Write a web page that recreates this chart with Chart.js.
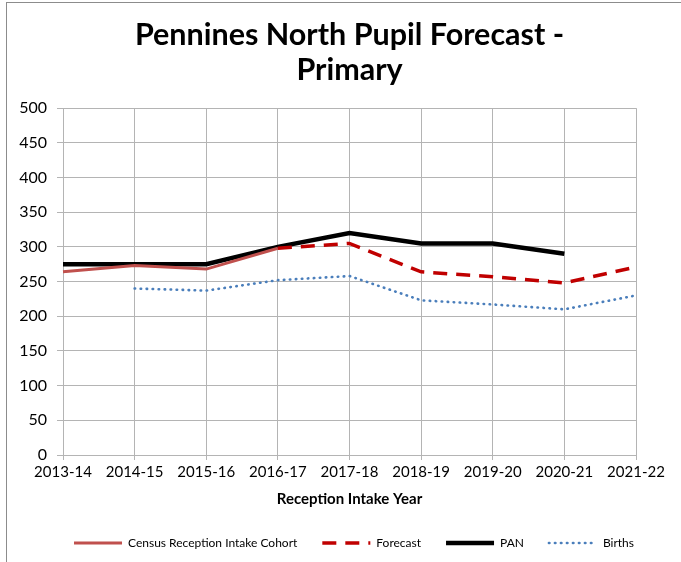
<!DOCTYPE html>
<html>
<head>
<meta charset="utf-8">
<script src="https://cdn.jsdelivr.net/npm/chart.js@4"></script>
<style>
    html, body { margin: 0; padding: 0; background: #fff; }
    #wrap { position: relative; width: 681px; height: 562px; }
    #frame { position: absolute; left: 6px; top: 2px; right: 0; bottom: 0;
             border-left: 1px solid #8c8c8c; border-top: 1px solid #8c8c8c; }
    canvas { position: absolute; left: 0; top: 0; }
</style>
</head>
<body>
<div id="wrap">
    <div id="frame"></div>
    <canvas id="forecastChart" width="681" height="562"></canvas>
</div>
<script>
const years = ['2013-14', '2014-15', '2015-16', '2016-17', '2017-18', '2018-19', '2019-20', '2020-21', '2021-22'];
const census = [264, 273, 268, 298, null, null, null, null, null];
const forecast = [null, null, null, 298, 305, 264, 257, 248, 271];
const pan = [275, 275, 275, 300, 320, 305, 305, 290, null];
const births = [null, 240, 237, 252, 258, 223, 217, 210, 230];
const yTicks = [0, 50, 100, 150, 200, 250, 300, 350, 400, 450, 500];

document.addEventListener('DOMContentLoaded', () => {
    const ctx = document.getElementById('forecastChart').getContext('2d');
    const gridColor = '#b4b4b4';

    new Chart(ctx, {
        type: 'line',
        data: {
            labels: years,
            datasets: [
                {
                    label: 'Census Reception Intake Cohort',
                    data: census,
                    borderColor: '#c0504d',
                    backgroundColor: '#c0504d',
                    borderWidth: 3
                },
                {
                    label: 'Forecast',
                    data: forecast,
                    borderColor: '#c00000',
                    backgroundColor: '#c00000',
                    borderWidth: 3.5,
                    borderDash: [14, 9]
                },
                {
                    label: 'PAN',
                    data: pan,
                    borderColor: '#000000',
                    backgroundColor: '#000000',
                    borderWidth: 4.5
                },
                {
                    label: 'Births',
                    data: births,
                    borderColor: '#4a7ebb',
                    backgroundColor: '#4a7ebb',
                    borderWidth: 2.6,
                    borderDash: [0.5, 5.5],
                    borderCapStyle: 'round'
                }
            ]
        },
        options: {
            responsive: false,
            animation: false,
            spanGaps: false,
            elements: {
                point: { radius: 0, hoverRadius: 0 },
                line: { tension: 0 }
            },
            layout: {
                padding: { left: 0, right: 22, top: 0, bottom: 3 }
            },
            scales: {
                x: {
                    offset: false,
                    grid: { color: gridColor, tickLength: 5 },
                    border: { color: gridColor },
                    ticks: {
                        color: '#000',
                        padding: 3,
                        maxRotation: 0,
                        autoSkip: false,
                        font: { family: 'Lato', size: 15 }
                    },
                    title: {
                        display: true,
                        text: 'Reception Intake Year',
                        color: '#000',
                        padding: { top: 6, bottom: 4 },
                        font: { family: 'Lato', size: 15, weight: 'bold' }
                    }
                },
                y: {
                    min: 0,
                    max: 500,
                    afterBuildTicks: (scale) => {
                        scale.ticks = yTicks.map(v => ({ value: v }));
                    },
                    afterFit: (scale) => {
                        scale.width = 63;
                    },
                    grid: { color: gridColor, tickLength: 6 },
                    border: { color: gridColor },
                    ticks: {
                        color: '#000',
                        padding: 10,
                        font: { family: 'Lato', size: 16 }
                    }
                },
                // empty spacer on the right so the plot ends where the original does
                spacer: {
                    position: 'right',
                    display: true,
                    grid: { display: false },
                    border: { display: false },
                    ticks: { display: false },
                    afterFit: (scale) => {
                        scale.width = 23;
                    }
                }
            },
            plugins: {
                title: {
                    display: true,
                    fullSize: false,
                    text: ['Pennines North Pupil Forecast -', 'Primary'],
                    color: '#000',
                    padding: { top: 18, bottom: 20 },
                    font: { family: 'Lato', size: 30.5, weight: 'bold', lineHeight: 1.15 }
                },
                legend: {
                    position: 'bottom',
                    align: 'end',
                    labels: {
                        usePointStyle: true,
                        pointStyle: 'line',
                        pointStyleWidth: 48,
                        padding: 25,
                        color: '#000',
                        font: { family: 'Lato', size: 12 },
                        generateLabels: (chart) => {
                            const items = Chart.defaults.plugins.legend.labels.generateLabels(chart);
                            return items.map(item => {
                                const ds = chart.data.datasets[item.datasetIndex];
                                item.lineDash = ds.borderDash || [];
                                item.lineWidth = ds.borderWidth;
                                item.lineCap = ds.borderCapStyle || 'butt';
                                item.strokeStyle = ds.borderColor;
                                return item;
                            });
                        }
                    }
                },
                tooltip: { enabled: false }
            }
        }
    });
});
</script>
</body>
</html>
